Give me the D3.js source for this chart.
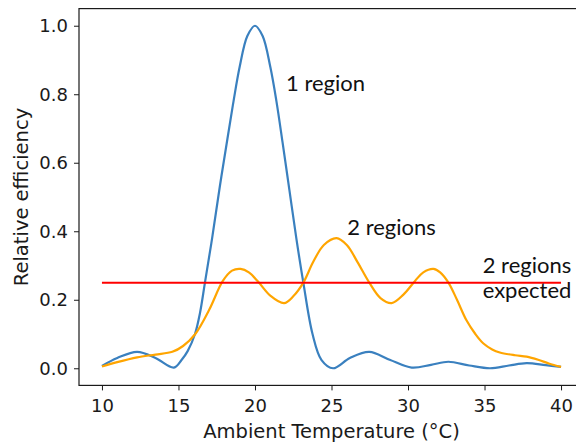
<!DOCTYPE html>
<html>
<head>
<meta charset="utf-8">
<script src="https://cdn.jsdelivr.net/npm/d3@7"></script>
<style>
    body { margin: 0; background: #fff; }
    svg { display: block; }
    .tick text { font-family: "DejaVu Sans", sans-serif; font-size: 18px; fill: #1a1a1a; }
    .tick line { stroke: #1a1a1a; }
    .axis-label { font-family: "DejaVu Sans", sans-serif; font-size: 19.5px; fill: #1a1a1a; }
    .note { font-family: Lato, "Open Sans", sans-serif; font-size: 22px; fill: #111; }
</style>
</head>
<body>
<div id="chart"></div>
<script>
// values
const oneRegionTemps = [10, 11, 12.3, 13.5, 14.7, 15.2, 15.6, 16.08, 16.4, 16.73, 17.2, 17.7, 18.2, 18.6, 19.0, 19.5,
    20.0, 20.5, 21.0, 21.4, 21.8, 22.25, 22.7, 23.16, 23.76, 24.35, 25.1, 26.2, 27.47, 28.8, 30.24, 31.5, 32.64,
    34.0, 35.36, 36.6, 37.75, 39.0, 40];
const oneRegionValues = [0.007, 0.03, 0.048, 0.03, 0.002, 0.024, 0.05, 0.10, 0.16, 0.25, 0.38, 0.53, 0.67, 0.78, 0.88, 0.97,
    1.0, 0.97, 0.88, 0.78, 0.66, 0.52, 0.38, 0.25, 0.10, 0.024, 0.0, 0.03, 0.048, 0.025, 0.002, 0.01, 0.019,
    0.008, 0.0, 0.008, 0.015, 0.009, 0.004];

const twoRegionTemps = [10, 11, 12.3, 13.5, 14.6, 15.3, 16.1, 17.0, 17.9, 18.5, 19.06, 19.6, 20.2, 21.0, 21.9, 22.5,
    23.16, 23.8, 24.5, 25.33, 26.0, 26.7, 27.47, 28.2, 28.93, 29.7, 30.46, 31.0, 31.66, 32.1, 32.64, 33.2, 33.82,
    34.4, 34.91, 35.5, 36.0, 37.0, 37.75, 38.5, 39.2, 40];
const twoRegionValues = [0.005, 0.018, 0.032, 0.04, 0.048, 0.065, 0.10, 0.17, 0.255, 0.285, 0.29, 0.28, 0.253, 0.212, 0.19, 0.21,
    0.25, 0.31, 0.36, 0.38, 0.36, 0.31, 0.25, 0.205, 0.19, 0.215, 0.255, 0.28, 0.29, 0.28, 0.25, 0.20, 0.14,
    0.10, 0.073, 0.055, 0.046, 0.038, 0.034, 0.025, 0.014, 0.004];

const expectedRange = [10, 40];
const expectedLevel = 0.25;

const xTicks = [10, 15, 20, 25, 30, 35, 40];
const yTicks = [0.0, 0.2, 0.4, 0.6, 0.8, 1.0];

// annotations: lines of text, anchored at (temp, value) of the first baseline
const noteLines = [["1 region"], ["2 regions"], ["2 regions", "expected"]];
const noteTemps = [22.03, 26.03, 34.88];
const noteValues = [0.81, 0.389, 0.277];

const w = 576,
    h = 445;

// matplotlib style axes box, right edge sits just past the picture
const box = {left: 79, top: 8.6, right: 584, bottom: 385.4};

const blue = "#3a80bf",
    orange = "#ffa500",
    red = "#ff0000";


function zipSeries(xs, ys) {
    return xs.map(function (x, i) {
        return {t: x, v: ys[i]};
    });
}


function drawChart() {
    let x = d3.scaleLinear().domain([8.5, 41.5]).range([box.left, box.right]);
    let y = d3.scaleLinear().domain([-0.05, 1.05]).range([box.bottom, box.top]);

    let svg = d3.select("#chart")
        .append("svg")
        .attr("width", w)
        .attr("height", h);

    let line = d3.line()
        .x(function (d) { return x(d.t); })
        .y(function (d) { return y(d.v); })
        .curve(d3.curveCatmullRom.alpha(0.5));

    svg.append("path")
        .datum(zipSeries(oneRegionTemps, oneRegionValues))
        .attr("d", line)
        .attr("fill", "none")
        .attr("stroke", blue)
        .attr("stroke-width", 2.2);

    svg.append("path")
        .datum(zipSeries(twoRegionTemps, twoRegionValues))
        .attr("d", line)
        .attr("fill", "none")
        .attr("stroke", orange)
        .attr("stroke-width", 2.2);

    svg.append("line")
        .attr("x1", x(expectedRange[0]))
        .attr("x2", x(expectedRange[1]))
        .attr("y1", y(expectedLevel))
        .attr("y2", y(expectedLevel))
        .attr("stroke", red)
        .attr("stroke-width", 2);

    // axes
    svg.append("g")
        .attr("transform", "translate(0," + box.bottom + ")")
        .call(d3.axisBottom(x).tickValues(xTicks).tickFormat(d3.format("d")).tickSize(5).tickPadding(9))
        .call(function (g) { g.select(".domain").remove(); });

    svg.append("g")
        .attr("transform", "translate(" + box.left + ",0)")
        .call(d3.axisLeft(y).tickValues(yTicks).tickFormat(d3.format(".1f")).tickSize(5).tickPadding(6))
        .call(function (g) { g.select(".domain").remove(); });

    svg.append("rect")
        .attr("x", box.left)
        .attr("y", box.top)
        .attr("width", box.right - box.left)
        .attr("height", box.bottom - box.top)
        .attr("fill", "none")
        .attr("stroke", "#1a1a1a")
        .attr("stroke-width", 1.2);

    svg.append("text")
        .attr("class", "axis-label")
        .attr("x", (box.left + box.right) / 2)
        .attr("y", 438)
        .attr("text-anchor", "middle")
        .text("Ambient Temperature (°C)");

    svg.append("text")
        .attr("class", "axis-label")
        .attr("transform", "translate(28," + ((box.top + box.bottom) / 2) + ") rotate(-90)")
        .attr("text-anchor", "middle")
        .text("Relative efficiency");

    let notes = svg.selectAll("text.note")
        .data(noteLines)
        .enter()
        .append("text")
        .attr("class", "note")
        .attr("x", function (d, i) { return x(noteTemps[i]); })
        .attr("y", function (d, i) { return y(noteValues[i]); });

    notes.each(function (lines, i) {
        let t = d3.select(this);
        lines.forEach(function (s, j) {
            t.append("tspan")
                .attr("x", x(noteTemps[i]))
                .attr("dy", j === 0 ? 0 : 24.5)
                .text(s);
        });
    });
}

drawChart();
</script>
</body>
</html>
